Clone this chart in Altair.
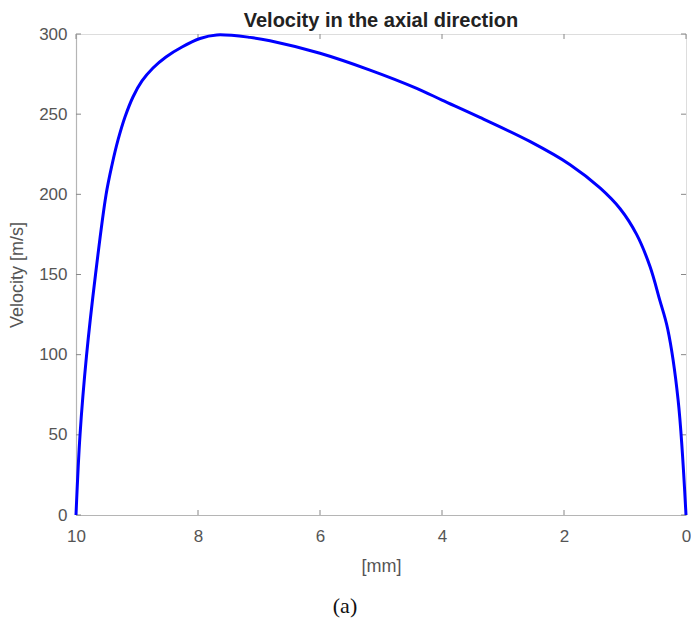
import altair as alt
import pandas as pd

# Data
position_mm = [10.0, 9.934, 9.828, 9.68, 9.508, 9.41, 9.311, 9.197, 9.066, 8.918, 8.738,
               8.525, 8.262, 7.967, 7.693, 7.148, 6.82, 6.0, 5.18, 4.415, 4.0, 3.38,
               2.56, 1.9, 1.41, 1.08, 0.81, 0.59, 0.43, 0.30, 0.13, 0.0]
velocity = [0, 50, 99.2, 150, 199.6, 218.3, 233.9, 248.2, 260.7, 270.7, 278.8,
            285.7, 291.9, 297.2, 299.4, 297.9, 295.8, 288, 277.5, 266.1, 258.8, 248,
            233, 218.5, 204, 191, 175, 155, 134, 116, 72, 0]

x_ticks = [10, 8, 6, 4, 2, 0]
y_ticks = [0, 50, 100, 150, 200, 250, 300]

df = pd.DataFrame({"x": position_mm, "v": velocity})
xt = pd.DataFrame({"x": x_ticks})
yt = pd.DataFrame({"v": y_ticks})

W, H = 610, 481
FONT = "Liberation Sans"
GRAY = "#b5b5b5"

xscale = alt.Scale(domain=[10, 0], nice=False, zero=False)
yscale = alt.Scale(domain=[0, 300], nice=False)

xaxis = alt.Axis(values=x_ticks, ticks=False, grid=False, domainColor=GRAY, domainWidth=1.2,
                 labelFont=FONT, labelFontSize=17, labelColor="#555555", labelPadding=13,
                 labelFlush=False, labelOverlap=False,
                 title="[mm]", titleFont=FONT, titleFontSize=18, titleFontWeight="normal",
                 titleColor="#555555", titlePadding=13, format="d")
yaxis = alt.Axis(values=y_ticks, ticks=False, grid=False, domainColor=GRAY, domainWidth=1.2,
                 labelFont=FONT, labelFontSize=17, labelColor="#555555", labelPadding=9,
                 labelFlush=False, labelOverlap=False,
                 title="Velocity [m/s]", titleFont=FONT, titleFontSize=18,
                 titleFontWeight="normal", titleColor="#555555", titlePadding=12, format="d")

line = alt.Chart(df).mark_line(color="#0000ff", strokeWidth=3, interpolate="catmull-rom").encode(
    x=alt.X("x:Q", scale=xscale, axis=xaxis),
    y=alt.Y("v:Q", scale=yscale, axis=yaxis),
)

tick_style = dict(color="#888888", strokeWidth=1)
xt_bottom = alt.Chart(xt).mark_rule(**tick_style).encode(
    x=alt.X("x:Q", scale=xscale), y=alt.value(H), y2=alt.value(H - 5))
xt_top = alt.Chart(xt).mark_rule(**tick_style).encode(
    x=alt.X("x:Q", scale=xscale), y=alt.value(0), y2=alt.value(5))
yt_left = alt.Chart(yt).mark_rule(**tick_style).encode(
    y=alt.Y("v:Q", scale=yscale), x=alt.value(0), x2=alt.value(5))
yt_right = alt.Chart(yt).mark_rule(**tick_style).encode(
    y=alt.Y("v:Q", scale=yscale), x=alt.value(W), x2=alt.value(W - 5))

caption = alt.Chart(pd.DataFrame({"t": ["(a)"]})).mark_text(
    font="Liberation Serif", fontSize=22, color="#111111", baseline="middle", align="center"
).encode(text="t:N", x=alt.value(345 - 76), y=alt.value(606 - 34))

title_mark = alt.Chart(pd.DataFrame({"t": ["Velocity in the axial direction"]})).mark_text(
    font=FONT, fontSize=20, fontWeight="bold", color="#222222",
    baseline="alphabetic", align="center"
).encode(text="t:N", x=alt.value(W / 2), y=alt.value(-7))

chart = alt.layer(xt_bottom, xt_top, yt_left, yt_right, line, caption, title_mark).properties(
    width=W, height=H,
    autosize=alt.AutoSizeParams(type="none"),
    padding={"left": 76, "top": 34, "right": 5, "bottom": 107},
).configure_view(stroke=GRAY, strokeWidth=1.2).configure(background="white")

chart.save("out.html", embed_options={"renderer": "svg", "actions": False})
